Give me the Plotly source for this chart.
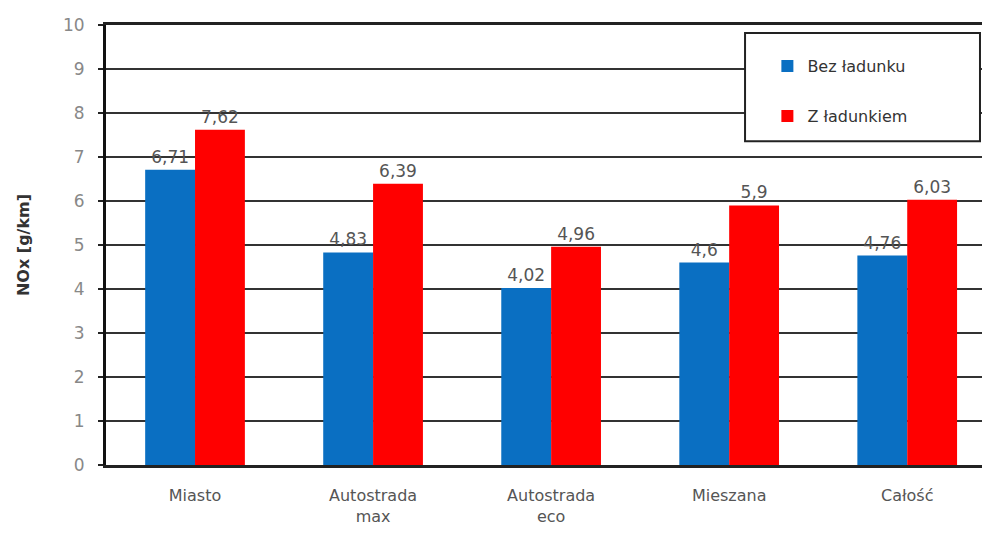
import plotly.graph_objects as go

categories = ["Miasto", "Autostrada<br>max", "Autostrada<br>eco", "Mieszana", "Całość"]
bez_ladunku = [6.71, 4.83, 4.02, 4.6, 4.76]
z_ladunkiem = [7.62, 6.39, 4.96, 5.9, 6.03]
y_ticks = list(range(0, 11))

FONT = "DejaVu Sans"

def fmt(v):
    return str(v).replace(".", ",")

fig = go.Figure()
fig.add_trace(go.Bar(
    x=categories, y=bez_ladunku, name="Bez ładunku",
    marker=dict(color="#0a6fc2", line=dict(width=0)),
    text=[fmt(v) for v in bez_ladunku], textposition="outside",
    textfont=dict(size=17, color="#555555", family=FONT),
    cliponaxis=False, legendgroup="a",
))
fig.add_trace(go.Bar(
    x=categories, y=z_ladunkiem, name="Z ładunkiem",
    marker=dict(color="#ff0000", line=dict(width=0)),
    text=[fmt(v) for v in z_ladunkiem], textposition="outside",
    textfont=dict(size=17, color="#555555", family=FONT),
    cliponaxis=False, legendgroup="b",
))

# legend frame (paper coordinates)
fig.add_shape(type="rect", xref="paper", yref="paper",
              x0=0.7295, x1=0.9977, y0=0.736, y1=0.982,
              fillcolor="white", line=dict(color="#222222", width=2), layer="above")

fig.update_layout(
    width=982, height=540,
    margin=dict(l=106, r=0, t=25, b=75),
    paper_bgcolor="white", plot_bgcolor="white",
    barmode="group", bargap=0.44, bargroupgap=0,
    font=dict(family=FONT, color="#555555"),
    showlegend=True,
    legend=dict(
        x=0.755, y=0.945, xanchor="left", yanchor="top",
        bgcolor="rgba(0,0,0,0)", borderwidth=0,
        font=dict(size=16, color="#333333", family=FONT),
        tracegroupgap=26, itemwidth=30,
    ),
    xaxis=dict(
        range=[-0.5, 4.42], showline=True, linecolor="#222222", linewidth=3,
        mirror=True,
        ticks="", tickfont=dict(size=16, color="#555555"), showgrid=False,
        ticklabelstandoff=14,
    ),
    yaxis=dict(
        range=[0, 10], tickvals=y_ticks, showline=True, linecolor="#111111", linewidth=3,
        showgrid=True, gridcolor="#333333", gridwidth=2,
        ticks="outside", ticklen=5, tickcolor="#222222", tickwidth=2,
        tickfont=dict(size=17, color="#888888"), zeroline=False,
        ticklabelstandoff=10,
        title=dict(text="<b>NOx [g/km]</b>", font=dict(size=16, color="#333333"), standoff=30),
    ),
)

fig.write_html("out.html")
